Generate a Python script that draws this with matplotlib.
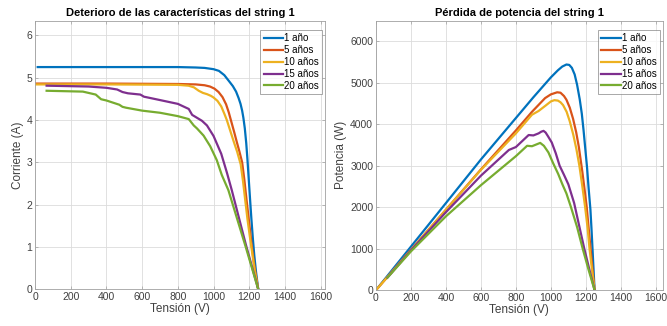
import matplotlib.pyplot as plt

plt.rcParams["font.family"] = ["Liberation Sans", "DejaVu Sans"]

labels = ["1 año", "5 años", "10 años", "15 años", "20 años"]
colors = ["#0072BD", "#D95319", "#EDB120", "#7E2F8E", "#77AC30"]

# Curvas I-V (tensión en V, corriente en A)
v_1 = [15, 400, 800, 900, 950, 1000, 1030, 1060, 1086, 1108, 1126, 1140, 1151, 1160, 1167, 1175,
       1183, 1190, 1197, 1204, 1212, 1220, 1228, 1238, 1250]
i_1 = [5.25, 5.25, 5.25, 5.24, 5.23, 5.2, 5.16, 5.06, 4.92, 4.8, 4.67, 4.52, 4.38, 4.22, 4.05, 3.8,
       3.45, 3.05, 2.6, 2.15, 1.65, 1.2, 0.8, 0.4, 0.0]
v_5 = [0, 400, 800, 900, 950, 980, 1005, 1028, 1050, 1070, 1085, 1100, 1115, 1130, 1145, 1160,
       1172, 1185, 1200, 1213, 1225, 1238, 1250]
i_5 = [4.86, 4.86, 4.85, 4.84, 4.82, 4.79, 4.74, 4.66, 4.54, 4.37, 4.18, 3.95, 3.72, 3.48, 3.25, 3.0,
       2.6, 2.1, 1.55, 1.05, 0.65, 0.3, 0.0]
v_10 = [0, 400, 800, 860, 890, 917, 940, 963, 985, 1000, 1022, 1043, 1060, 1074, 1093, 1112, 1132,
        1152, 1165, 1176, 1190, 1203, 1215, 1230, 1250]
i_10 = [4.84, 4.84, 4.83, 4.81, 4.77, 4.69, 4.64, 4.61, 4.57, 4.53, 4.45, 4.32, 4.15, 4.0, 3.75, 3.5,
        3.25, 2.95, 2.55, 2.15, 1.65, 1.25, 0.9, 0.45, 0.0]
v_15 = [65, 300, 400, 460, 490, 520, 590, 610, 700, 800, 861, 880, 935, 963, 1000, 1043, 1075, 1102,
        1181, 1250]
i_15 = [4.81, 4.79, 4.76, 4.72, 4.66, 4.63, 4.6, 4.55, 4.47, 4.38, 4.26, 4.12, 3.98, 3.87, 3.62, 3.2,
        2.75, 2.34, 1.05, 0.0]
v_20 = [65, 268, 340, 370, 400, 472, 490, 509, 600, 700, 800, 861, 889, 907, 944, 981, 1018, 1046,
        1083, 1180, 1250]
i_20 = [4.69, 4.67, 4.6, 4.49, 4.46, 4.36, 4.31, 4.29, 4.22, 4.17, 4.09, 4.02, 3.87, 3.8, 3.63, 3.38,
        3.05, 2.7, 2.34, 1.0, 0.0]

# Curvas P-V (tensión en V, potencia en W)
pv_1 = [15, 200, 400, 600, 800, 900, 1000, 1040, 1065, 1089, 1105, 1120, 1136, 1150, 1165, 1177,
        1187, 1197, 1207, 1216, 1226, 1232, 1238, 1244, 1250]
p_1 = [80, 1050, 2100, 3150, 4150, 4650, 5130, 5300, 5390, 5440, 5430, 5360, 5200, 4950, 4600, 4250,
       3850, 3400, 2950, 2450, 1950, 1500, 1000, 500, 0]
pv_5 = [0, 200, 400, 600, 800, 892, 967, 1000, 1036, 1055, 1075, 1089, 1108, 1127, 1145, 1160, 1170,
        1180, 1192, 1205, 1216, 1227, 1238, 1250]
p_5 = [0, 970, 1940, 2910, 3850, 4300, 4630, 4720, 4770, 4760, 4680, 4590, 4400, 4130, 3800, 3450,
       3150, 2850, 2450, 2000, 1500, 1000, 500, 0]
pv_10 = [0, 200, 400, 600, 800, 892, 930, 970, 1000, 1020, 1040, 1055, 1070, 1090, 1108, 1128, 1146,
         1163, 1180, 1196, 1210, 1221, 1235, 1250]
p_10 = [0, 968, 1936, 2900, 3780, 4230, 4320, 4450, 4550, 4580, 4570, 4530, 4460, 4300, 4070, 3750,
        3400, 3000, 2500, 2000, 1500, 1000, 500, 0]
pv_15 = [65, 200, 400, 600, 760, 800, 873, 900, 930, 945, 958, 970, 985, 1005, 1028, 1050, 1075,
         1100, 1133, 1162, 1191, 1220, 1250]
p_15 = [300, 960, 1880, 2760, 3380, 3450, 3740, 3730, 3780, 3820, 3840, 3800, 3700, 3560, 3300, 3000,
        2780, 2550, 2100, 1550, 1000, 500, 0]
pv_20 = [65, 200, 400, 600, 800, 864, 892, 939, 960, 986, 1013, 1042, 1065, 1089, 1115, 1150, 1182,
         1215, 1250]
p_20 = [300, 935, 1780, 2530, 3230, 3480, 3470, 3550, 3480, 3320, 3060, 2800, 2560, 2330, 2000, 1520,
        1000, 500, 0]

xticks = [0, 200, 400, 600, 800, 1000, 1200, 1400, 1600]


def style_axes(ax):
    ax.grid(True, color="#dcdcdc", linewidth=0.6)
    ax.set_axisbelow(True)
    for s in ax.spines.values():
        s.set_color("#a0a0a0")
        s.set_linewidth(0.6)
    ax.tick_params(direction="in", length=2.5, width=0.5, labelsize=7.5,
                   colors="#a0a0a0", labelcolor="#404040", top=True, right=True, pad=2)
    ax.set_xticks(xticks)


fig = plt.figure(figsize=(6.67, 3.26), dpi=100)

ax1 = fig.add_axes([0.0525, 0.113, 0.435, 0.824])
for v, y, c, lab in zip([v_1, v_5, v_10, v_15, v_20], [i_1, i_5, i_10, i_15, i_20], colors, labels):
    ax1.plot(v, y, color=c, lw=1.6, label=lab)
style_axes(ax1)
ax1.set_xlim(0, 1625)
ax1.set_ylim(0, 6.35)
ax1.set_yticks([0, 1, 2, 3, 4, 5, 6])
ax1.set_title("Deterioro de las características del string 1", fontsize=8, fontweight="bold", pad=3)
ax1.set_xlabel("Tensión (V)", fontsize=8.5, color="#404040", labelpad=1)
ax1.set_ylabel("Corriente (A)", fontsize=8.5, color="#404040", labelpad=2)

ax2 = fig.add_axes([0.5637, 0.11, 0.430, 0.827])
for v, y, c, lab in zip([pv_1, pv_5, pv_10, pv_15, pv_20], [p_1, p_5, p_10, p_15, p_20], colors, labels):
    ax2.plot(v, y, color=c, lw=1.6, label=lab)
style_axes(ax2)
ax2.set_xlim(0, 1640)
ax2.set_ylim(0, 6500)
ax2.set_yticks([0, 1000, 2000, 3000, 4000, 5000, 6000])
ax2.set_title("Pérdida de potencia del string 1", fontsize=8, fontweight="bold", pad=3)
ax2.set_xlabel("Tensión (V)", fontsize=8.5, color="#404040", labelpad=1)
ax2.set_ylabel("Potencia (W)", fontsize=8.5, color="#404040", labelpad=2)

for ax in (ax1, ax2):
    leg = ax.legend(loc="upper right", bbox_to_anchor=(0.99, 0.966), fontsize=7, frameon=True,
                    fancybox=False, handlelength=2.0, handletextpad=0.1, labelspacing=0.2,
                    borderpad=0.35, borderaxespad=0.0)
    leg.get_frame().set_edgecolor("#808080")
    leg.get_frame().set_linewidth(0.6)

fig.savefig("out.png")
